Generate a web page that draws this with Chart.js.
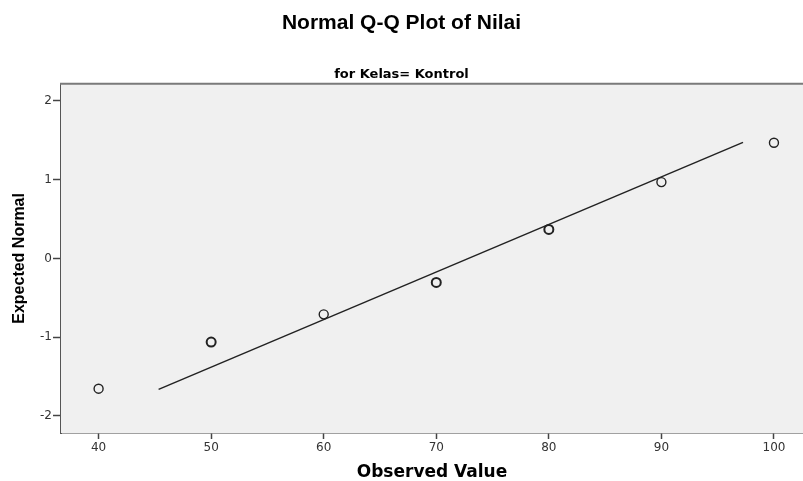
<!DOCTYPE html>
<html lang="en">
<head>
<meta charset="utf-8">
<title>Normal Q-Q Plot of Nilai</title>
<script src="https://cdn.jsdelivr.net/npm/chart.js@4"></script>
<style>
  html, body { margin: 0; padding: 0; background: #fff; }
  #wrap { width: 803px; height: 481px; }
</style>
</head>
<body>
<div id="wrap"><canvas id="qq" width="803" height="481"></canvas></div>
<script>
// observed values and their expected normal scores
const observed = [40, 50, 60, 70, 80, 90, 100];
const expected = [-1.655, -1.063, -0.711, -0.305, 0.368, 0.969, 1.469];
// how many cases sit on each point (tied ones look darker)
const freq = [1, 2, 1, 2, 2, 1, 1];
// the normal reference line, start and end
const lineX = [45.33, 97.25];
const lineY = [-1.664, 1.474];

const xTicks = [40, 50, 60, 70, 80, 90, 100];
const yTicks = [-2, -1, 0, 1, 2];

const points = observed.map((v, i) => ({ x: v, y: expected[i] }));
const refLine = lineX.map((v, i) => ({ x: v, y: lineY[i] }));

const plotFrame = {
    id: 'plotFrame',
    beforeDatasetsDraw(chart) {
        const { ctx, chartArea: a } = chart;
        ctx.save();
        ctx.fillStyle = '#f0f0f0';
        ctx.fillRect(a.left, a.top, a.right - a.left, a.bottom - a.top);
        ctx.restore();
    },
    afterDraw(chart) {
        const { ctx, chartArea: a } = chart;
        ctx.save();
        ctx.strokeStyle = '#7a7a7a';
        ctx.lineWidth = 2;
        ctx.beginPath();
        ctx.moveTo(a.left - 1, a.top);
        ctx.lineTo(a.right, a.top);
        ctx.stroke();
        ctx.restore();
    }
};

const tickFont = { family: 'DejaVu Sans', size: 12 };

new Chart(document.getElementById('qq'), {
    type: 'scatter',
    data: {
        datasets: [
            {
                label: 'Observed',
                data: points,
                pointStyle: 'circle',
                pointRadius: 4.5,
                pointBorderWidth: freq.map(f => f > 1 ? 2 : 1.4),
                pointBorderColor: '#222',
                pointBackgroundColor: 'rgba(0,0,0,0)',
                order: 1
            },
            {
                type: 'line',
                label: 'Normal line',
                data: refLine,
                borderColor: '#222',
                borderWidth: 1.5,
                pointRadius: 0,
                fill: false,
                order: 2
            }
        ]
    },
    options: {
        responsive: false,
        animation: false,
        layout: { autoPadding: false, padding: 0 },
        plugins: {
            legend: { display: false },
            tooltip: { enabled: false },
            title: {
                display: true,
                text: 'Normal Q-Q Plot of Nilai',
                color: '#000',
                font: { family: 'Liberation Sans', size: 21, weight: 'bold', lineHeight: 1.2 },
                padding: { top: 11, bottom: 31 }
            },
            subtitle: {
                display: true,
                text: 'for Kelas= Kontrol',
                color: '#000',
                font: { family: 'DejaVu Sans', size: 13, weight: 'bold', lineHeight: 1.2 },
                padding: { top: 0, bottom: 1 }
            }
        },
        scales: {
            x: {
                type: 'linear',
                min: 36.66,
                max: 102.58,
                afterFit(scale) { scale.height = 48; },
                afterBuildTicks(scale) { scale.ticks = xTicks.map(v => ({ value: v })); },
                ticks: { font: tickFont, color: '#333', padding: 2, maxRotation: 0 },
                grid: { drawOnChartArea: false, drawTicks: true, tickLength: 6, color: '#444', tickWidth: 1.5 },
                border: { display: true, color: '#444', width: 1.5 },
                title: {
                    display: true,
                    text: 'Observed Value',
                    color: '#000',
                    font: { family: 'DejaVu Sans', size: 17, weight: 'bold', lineHeight: 1 },
                    padding: { top: 0, bottom: 0 }
                }
            },
            y: {
                type: 'linear',
                min: -2.218,
                max: 2.218,
                afterFit(scale) { scale.width = 61; },
                afterBuildTicks(scale) { scale.ticks = yTicks.map(v => ({ value: v })); },
                ticks: { font: tickFont, color: '#333', padding: 1 },
                grid: { drawOnChartArea: false, drawTicks: true, tickLength: 8, color: '#444', tickWidth: 1.5 },
                border: { display: true, color: '#555', width: 2 },
                title: {
                    display: true,
                    text: 'Expected Normal',
                    color: '#000',
                    font: { family: 'Liberation Sans', size: 16, weight: 'bold', lineHeight: 1.2 },
                    padding: { top: 10, bottom: 0 }
                }
            }
        }
    },
    plugins: [plotFrame]
});
</script>
</body>
</html>
